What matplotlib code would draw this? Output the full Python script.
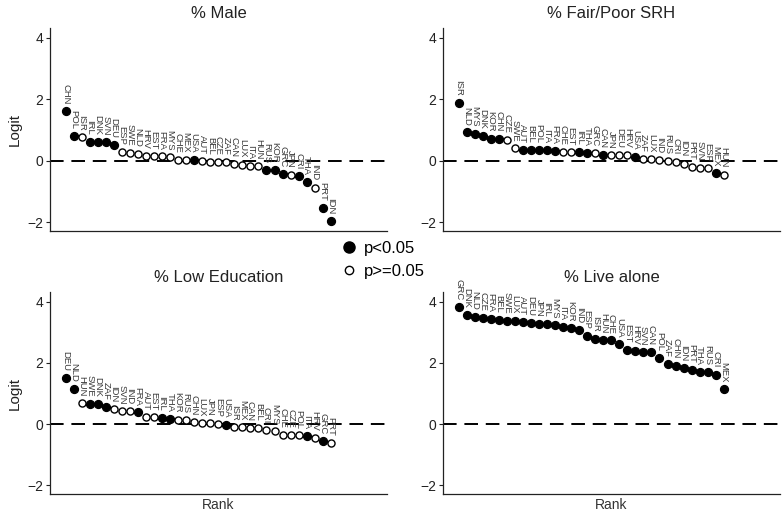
import matplotlib.pyplot as plt
from matplotlib.lines import Line2D

plt.rcParams['font.family'] = ['Liberation Sans', 'DejaVu Sans']

# ---- data: countries in rank order, logit values, significance (1 = p<0.05)
male_cty = ["CHN", "POL", "ISR", "IRL", "DNK", "SVN", "DEU", "ESP", "SWE", "NLD", "HRV", "EST",
            "FRA", "MYS", "CHE", "MEX", "USA", "AUT", "BEL", "CZE", "ZAF", "CAN", "LUX", "ITA",
            "HUN", "RUS", "KOR", "GRC", "JPN", "CRI", "THA", "IND", "PRT", "IDN"]
male_val = [1.60, 0.80, 0.76, 0.61, 0.60, 0.60, 0.52, 0.29, 0.25, 0.22, 0.15, 0.15,
            0.14, 0.11, 0.04, 0.03, 0.03, -0.01, -0.04, -0.05, -0.05, -0.09, -0.13, -0.16,
            -0.18, -0.29, -0.29, -0.42, -0.45, -0.50, -0.70, -0.87, -1.54, -1.95]
male_sig = [1, 1, 0, 1, 1, 1, 1, 0, 0, 0, 0, 0,
            0, 0, 0, 0, 1, 0, 0, 0, 0, 0, 0, 0,
            0, 1, 1, 1, 0, 1, 1, 0, 1, 1]

srh_cty = ["ISR", "NLD", "MYS", "DNK", "KOR", "CHN", "CZE", "SWE", "AUT", "BEL", "POL", "ITA",
           "FRA", "CHE", "EST", "IRL", "THA", "GRC", "CAN", "JPN", "DEU", "HRV", "USA", "ZAF",
           "LUX", "IND", "RUS", "CRI", "IDN", "PRT", "SVN", "ESP", "MEX", "HUN"]
srh_val = [1.87, 0.92, 0.87, 0.82, 0.72, 0.72, 0.69, 0.40, 0.36, 0.36, 0.35, 0.35,
           0.32, 0.30, 0.28, 0.28, 0.25, 0.24, 0.19, 0.18, 0.18, 0.18, 0.13, 0.06,
           0.05, 0.03, -0.01, -0.03, -0.09, -0.19, -0.22, -0.25, -0.40, -0.45]
srh_sig = [1, 1, 1, 1, 1, 1, 0, 0, 1, 1, 1, 1,
           1, 0, 0, 1, 1, 0, 1, 0, 0, 0, 1, 0,
           0, 0, 0, 0, 0, 0, 0, 0, 1, 0]

edu_cty = ["DEU", "NLD", "HUN", "SWE", "DNK", "ZAF", "IDN", "SVN", "IND", "FRA", "AUT", "EST",
           "IRL", "THA", "KOR", "RUS", "CHN", "LUX", "JPN", "ESP", "USA", "ISR", "MEX", "CAN",
           "BEL", "CRI", "MYS", "CHE", "CZE", "POL", "ITA", "HRV", "GRC", "PRT"]
edu_val = [1.51, 1.15, 0.68, 0.67, 0.65, 0.55, 0.48, 0.42, 0.42, 0.38, 0.23, 0.23,
           0.20, 0.18, 0.15, 0.12, 0.06, 0.03, 0.03, 0.01, -0.02, -0.11, -0.11, -0.12,
           -0.13, -0.20, -0.24, -0.34, -0.36, -0.37, -0.39, -0.44, -0.56, -0.61]
edu_sig = [1, 1, 0, 1, 1, 1, 0, 0, 0, 1, 0, 0,
           1, 1, 0, 0, 0, 0, 0, 0, 1, 0, 0, 0,
           0, 0, 0, 0, 0, 0, 1, 0, 1, 0]

alone_cty = ["GRC", "DNK", "NLD", "CZE", "FRA", "BEL", "SWE", "LUX", "AUT", "DEU", "JPN", "IRL",
             "MYS", "ITA", "KOR", "IND", "ESP", "ISR", "HUN", "CHE", "USA", "EST", "HRV", "SVN",
             "CAN", "POL", "ZAF", "CHN", "IDN", "PRT", "THA", "RUS", "CRI", "MEX"]
alone_val = [3.81, 3.55, 3.51, 3.46, 3.43, 3.40, 3.38, 3.37, 3.34, 3.29, 3.28, 3.27,
             3.22, 3.17, 3.13, 3.08, 2.88, 2.77, 2.74, 2.73, 2.61, 2.43, 2.37, 2.35,
             2.34, 2.16, 1.97, 1.91, 1.83, 1.78, 1.71, 1.69, 1.61, 1.14]
alone_sig = [1] * 34

titles = ["% Male", "% Fair/Poor SRH", "% Low Education", "% Live alone"]
panels = [(male_cty, male_val, male_sig), (srh_cty, srh_val, srh_sig),
          (edu_cty, edu_val, edu_sig), (alone_cty, alone_val, alone_sig)]

W, H = 784, 516
fig = plt.figure(figsize=(W / 100, H / 100), dpi=100)

# axes boxes in pixels: left, top, right, bottom
boxes = [(50, 28, 387, 231), (443, 28, 780, 231),
         (50, 292, 387, 494), (443, 292, 780, 494)]

for i, (box, (cty, val, sig)) in enumerate(zip(boxes, panels)):
    l, t, r, b = box
    ax = fig.add_axes([l / W, 1 - b / H, (r - l) / W, (b - t) / H])
    x = list(range(1, len(cty) + 1))
    xs = [xi for xi, s in zip(x, sig) if s]
    ys = [v for v, s in zip(val, sig) if s]
    xo = [xi for xi, s in zip(x, sig) if not s]
    yo = [v for v, s in zip(val, sig) if not s]
    ax.axhline(0, color='black', lw=1.4, dashes=(7, 4), zorder=1)
    ax.scatter(xs, ys, s=32, color='black', zorder=3)
    ax.scatter(xo, yo, s=26, facecolor='white', edgecolor='black', linewidth=1.0, zorder=3)
    for xi, v, c in zip(x, val, cty):
        ax.annotate(c, (xi, v), xytext=(0, 5), textcoords='offset points',
                    rotation=270, ha='center', va='bottom', fontsize=6.8, color='#3a3a3a')
    ax.set_xlim(-0.95, 41)
    ax.set_ylim(-2.28, 4.31)
    ax.set_yticks([-2, 0, 2, 4])
    ax.set_xticks([])
    ax.tick_params(axis='y', labelsize=10, length=3, width=0.8, colors='#222222', pad=2)
    for s in ['top', 'right']:
        ax.spines[s].set_visible(False)
    for s in ['left', 'bottom']:
        ax.spines[s].set_color('#222222')
        ax.spines[s].set_linewidth(0.9)
    ax.set_title(titles[i], fontsize=12, color='#222222', pad=7)
    if i % 2 == 0:
        ax.set_ylabel("Logit", fontsize=11, color='#222222', labelpad=4)
    if i >= 2:
        ax.set_xlabel("Rank", fontsize=10, color='#333333', labelpad=3)

handles = [Line2D([], [], ls='none', marker='o', ms=8, color='black'),
           Line2D([], [], ls='none', marker='o', ms=6, mfc='white', mec='black', mew=1.0)]
fig.legend(handles, ["p<0.05", "p>=0.05"], loc='center', bbox_to_anchor=(382 / W, 1 - 260 / H),
           frameon=False, fontsize=12, handletextpad=0.3, labelspacing=0.5, handlelength=1.2)

fig.savefig("out.png", dpi=100)
